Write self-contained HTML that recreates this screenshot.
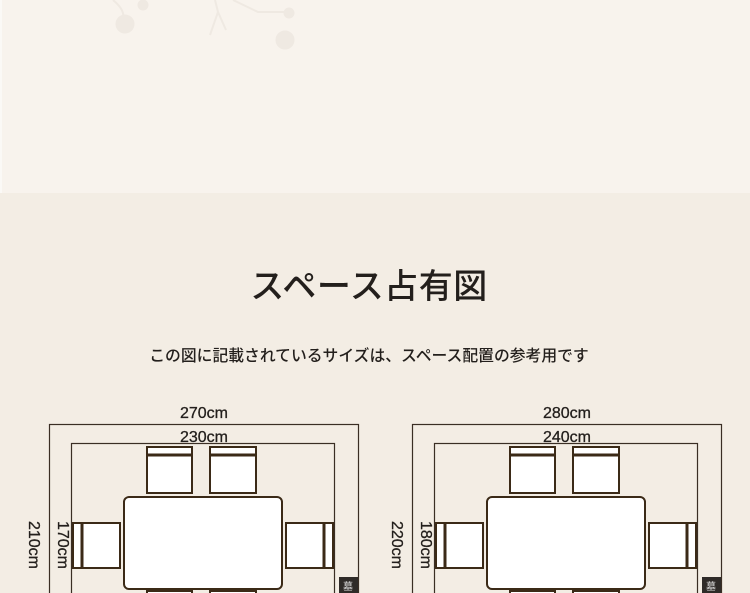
<!DOCTYPE html>
<html><head><meta charset="utf-8"><style>
html,body{margin:0;padding:0;width:750px;height:593px;overflow:hidden;background:#f3ede4;}
.top{position:absolute;left:0;top:0;width:750px;height:193px;background:#f8f3ed;}
.top .edge{position:absolute;left:0;top:0;width:2px;height:193px;background:#fbf9f6;}
.t{position:absolute;left:0;width:738px;text-align:center;font-family:"Liberation Sans","Noto Sans CJK JP",sans-serif;color:#231f1c;white-space:nowrap;}
svg{position:absolute;left:0;top:0;}
</style></head><body>
<div class="top"><div class="edge"></div>
<svg width="750" height="193">
<g fill="#efe9e2" stroke="#efe9e2">
<circle cx="125" cy="24" r="9"/><circle cx="143" cy="5" r="5"/><circle cx="285" cy="40" r="9"/><circle cx="289" cy="13" r="5"/>
<path d="M113 0 Q125 10 123 18" fill="none" stroke-width="2"/>
<path d="M215 0 L218 12 L210 35 M218 12 L226 30 M233 0 L258 12 L287 12" fill="none" stroke-width="2"/>
</g></svg></div>
<div class="t" style="top:259px;font-size:34px;font-weight:500;letter-spacing:0.5px;">スペース占有図</div>
<div class="t" style="top:343px;font-size:15.8px;font-weight:500;">この図に記載されているサイズは、スペース配置の参考用です</div>
<svg width="750" height="593" font-family="Liberation Sans,sans-serif">
<g id="d" fill="none" stroke="#3a2e24">
<rect x="49.5" y="424.5" width="309" height="180" stroke-width="1.2"/>
<rect x="71.5" y="443.5" width="263" height="170" stroke-width="1.2"/>
<g stroke="#3b2a17" stroke-width="2" fill="#fff">
<rect x="147" y="447" width="45" height="46"/><line x1="147" y1="455" x2="192" y2="455" stroke-width="3"/>
<rect x="210" y="447" width="46" height="46"/><line x1="210" y1="455" x2="256" y2="455" stroke-width="3"/>
<rect x="124" y="497" width="158" height="92" rx="5"/>
<rect x="73" y="523" width="47" height="45"/><line x1="82" y1="523" x2="82" y2="568" stroke-width="3"/>
<rect x="286" y="523" width="47" height="45"/><line x1="324" y1="523" x2="324" y2="568" stroke-width="3"/>
<rect x="147" y="591" width="45" height="10"/><rect x="210" y="591" width="46" height="10"/>
</g>
<rect x="339" y="577" width="19" height="20" fill="#2f2b28" stroke="none"/>
<text x="348" y="590" font-size="10" fill="#ddd" stroke="none" text-anchor="middle" font-family="Noto Sans CJK JP">墓</text>
</g>
<g fill="#231f1c" font-size="16" text-anchor="middle" stroke="#231f1c" stroke-width="0.3">
<text x="204" y="418">270cm</text><text x="204" y="442">230cm</text>
<text transform="translate(29,545) rotate(90)">210cm</text>
<text transform="translate(58,545) rotate(90)">170cm</text>
<text x="567" y="418">280cm</text><text x="567" y="442">240cm</text>
<text transform="translate(392,545) rotate(90)">220cm</text>
<text transform="translate(421,545) rotate(90)">180cm</text>
</g>
<use href="#d" x="363" y="0"/>
</svg>
</body></html>
